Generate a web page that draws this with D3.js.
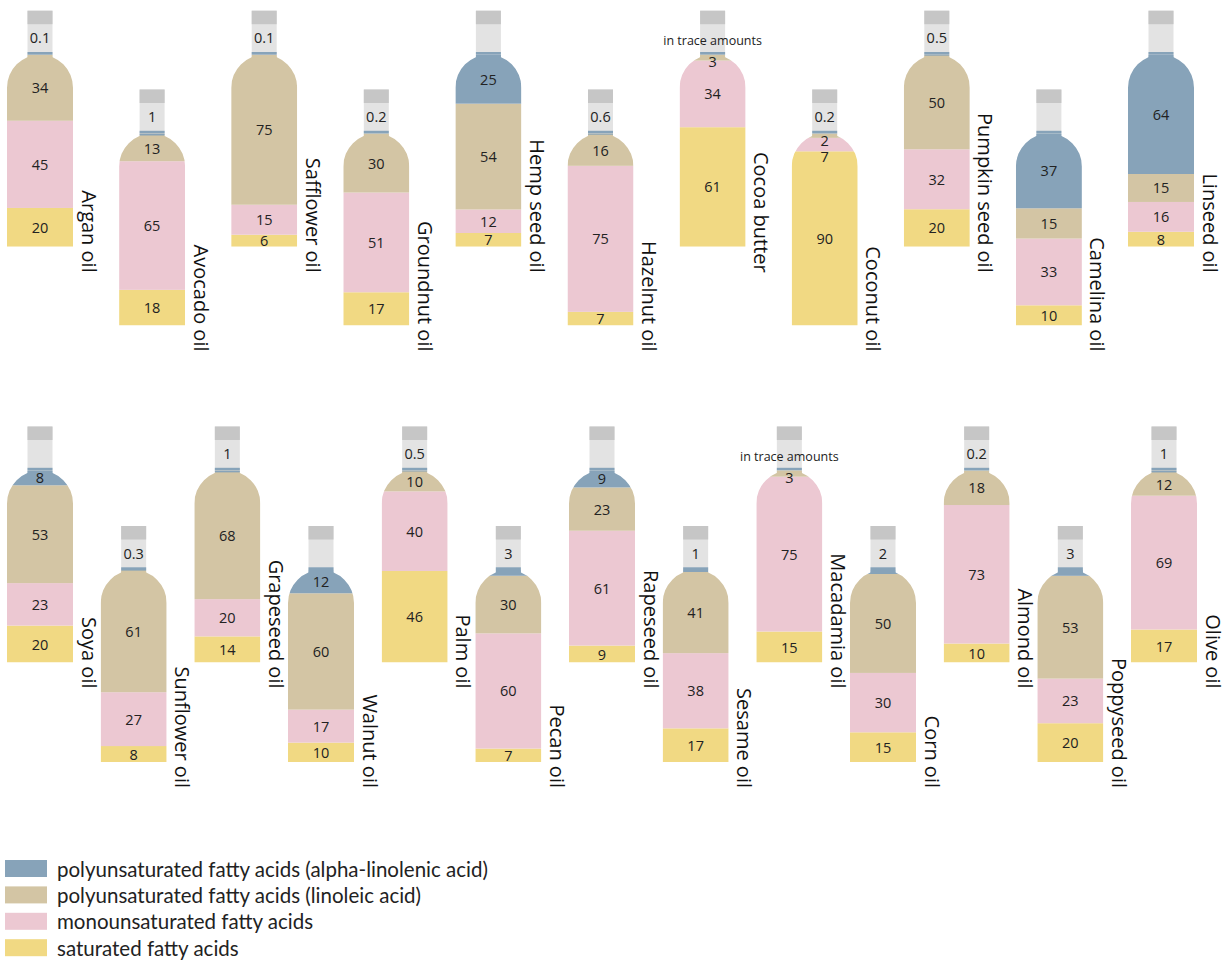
<!DOCTYPE html>
<html>
<head>
<meta charset="utf-8">
<script src="https://cdn.jsdelivr.net/npm/d3@7"></script>
<style>
  html, body { margin: 0; padding: 0; background: #fff; }
  svg { display: block; }
</style>
</head>
<body>
<svg id="chart" width="1225" height="960"></svg>
<script>
// ---------- DATA ----------
const seriesKeys = ["saturated", "mono", "linoleic", "alpha"];
const seriesLabels = [
  "polyunsaturated fatty acids (alpha-linolenic acid)",
  "polyunsaturated fatty acids (linoleic acid)",
  "monounsaturated fatty acids",
  "saturated fatty acids"
];
const legendKeys = ["alpha", "linoleic", "mono", "saturated"];

const row1Oils      = ["Argan oil", "Avocado oil", "Safflower oil", "Groundnut oil", "Hemp seed oil", "Hazelnut oil", "Cocoa butter", "Coconut oil", "Pumpkin seed oil", "Camelina oil", "Linseed oil"];
const row1Saturated = [20, 18, 6, 17, 7, 7, 61, 90, 20, 10, 8];
const row1Mono      = [45, 65, 15, 51, 12, 75, 34, 7, 32, 33, 16];
const row1Linoleic  = [34, 13, 75, 30, 54, 16, 3, 2, 50, 15, 15];
const row1Alpha     = [0.1, 1, 0.1, 0.2, 25, 0.6, 0, 0.2, 0.5, 37, 64];

const row2Oils      = ["Soya oil", "Sunflower oil", "Grapeseed oil", "Walnut oil", "Palm oil", "Pecan oil", "Rapeseed oil", "Sesame oil", "Macadamia oil", "Corn oil", "Almond oil", "Poppyseed oil", "Olive oil"];
const row2Saturated = [20, 8, 14, 10, 46, 7, 9, 17, 15, 15, 10, 20, 17];
const row2Mono      = [23, 27, 20, 17, 40, 60, 61, 38, 75, 30, 73, 23, 69];
const row2Linoleic  = [53, 61, 68, 60, 10, 30, 23, 41, 3, 50, 18, 53, 12];
const row2Alpha     = [8, 0.3, 1, 12, 0.5, 3, 9, 1, 0, 2, 0.2, 3, 1];

const traceText = "in trace amounts";

// ---------- STYLE ----------
const colors = {
  alpha: "#87a3b9",
  linoleic: "#d3c5a4",
  mono: "#ecc8d2",
  saturated: "#f1d983"
};
const capColor = "#c6c6c6";
const neckColor = "#e3e3e3";
const textColor = "#222";
const numFont = "'Open Sans', 'Noto Sans', sans-serif";

const bodyW = 66, neckW = 25, bodyH = 192;
const capH = 13.5, neckH = 44, lineH = 2.7;

const svg = d3.select("#chart");

function buildRow(oils, sat, mono, lin, alpha) {
  return oils.map((name, i) => ({
    name, saturated: sat[i], mono: mono[i], linoleic: lin[i], alpha: alpha[i], index: i
  }));
}

const rows = [
  { data: buildRow(row1Oils, row1Saturated, row1Mono, row1Linoleic, row1Alpha),
    xRange: [40, 1161], bottoms: [246.7, 325.5] },
  { data: buildRow(row2Oils, row2Saturated, row2Mono, row2Linoleic, row2Alpha),
    xRange: [40, 1164], bottoms: [662.5, 762] }
];

const stack = d3.stack().keys(seriesKeys).offset(d3.stackOffsetExpand);
const h = d3.scaleLinear().domain([0, 1]).range([0, bodyH]);

rows.forEach((row, ri) => {
  const x = d3.scalePoint().domain(row.data.map(d => d.name)).range(row.xRange);
  const stacked = stack(row.data);

  row.data.forEach((d, i) => {
    const cx = x(d.name);
    const bottom = row.bottoms[i % 2];
    const top = bottom - bodyH;
    const left = cx - bodyW / 2, r = bodyW / 2;
    const y = v => bottom - h(v);

    const g = svg.append("g").attr("class", "bottle");
    const clipId = `clip-${ri}-${i}`;
    const bodyPath = `M${left},${bottom} L${left},${top + r} A${r},${r} 0 0 1 ${left + bodyW},${top + r} L${left + bodyW},${bottom} Z` +
      ` M${cx - neckW / 2},${top} h${neckW} v4 h${-neckW} Z`;
    g.append("clipPath").attr("id", clipId).append("path").attr("d", bodyPath);

    // neck
    g.append("rect").attr("x", cx - neckW / 2).attr("y", top - neckH)
      .attr("width", neckW).attr("height", neckH).attr("fill", neckColor);
    g.append("rect").attr("x", cx - neckW / 2).attr("y", top - neckH)
      .attr("width", neckW).attr("height", capH).attr("fill", capColor);
    g.append("rect").attr("x", cx - neckW / 2).attr("y", top - lineH)
      .attr("width", neckW).attr("height", lineH).attr("fill", colors.alpha);

    // stacked segments
    const segs = g.append("g").attr("clip-path", `url(#${clipId})`);
    const topKey = (d.alpha > 0 && h(stacked[3][i][1] - stacked[3][i][0]) > 3) ? "alpha" : "linoleic";
    segs.append("rect").attr("x", cx - neckW / 2).attr("y", top).attr("width", neckW).attr("height", 4)
      .attr("fill", colors[topKey]);
    stacked.forEach(s => {
      const seg = s[i];
      const y0 = y(seg[0]), y1 = y(seg[1]);
      segs.append("rect")
        .attr("x", left).attr("width", bodyW)
        .attr("y", y1)
        .attr("height", Math.max(0, y0 - y1))
        .attr("fill", colors[s.key]);
    });

    // value labels, top-down with minimal spacing
    let prevY = -Infinity;
    [...stacked].reverse().forEach(s => {
      const seg = s[i];
      const v = d[s.key];
      if (s.key === "alpha" && v <= 3) return;
      const center = (y(seg[0]) + y(seg[1])) / 2;
      const ly = Math.max(center, top + 7, prevY + 16);
      prevY = ly;
      g.append("text")
        .attr("x", cx).attr("y", ly)
        .attr("text-anchor", "middle").attr("dominant-baseline", "central")
        .attr("font-family", numFont).attr("font-size", 14.5)
        .attr("fill", textColor)
        .text(v);
    });
    if (d.alpha > 0 && d.alpha <= 3) {
      g.append("text")
        .attr("x", cx).attr("y", top - 17)
        .attr("text-anchor", "middle").attr("dominant-baseline", "central")
        .attr("font-family", numFont).attr("font-size", 14.5)
        .attr("fill", textColor)
        .text(d.alpha);
    } else if (d.alpha === 0) {
      g.append("text")
        .attr("x", cx).attr("y", top - 14)
        .attr("text-anchor", "middle").attr("dominant-baseline", "central")
        .attr("font-family", numFont).attr("font-size", 12.5)
        .attr("fill", textColor)
        .text(traceText);
    }

    // oil name
    g.append("text")
      .attr("transform", `translate(${left + bodyW + 8.5},${bottom + 26}) rotate(90)`)
      .attr("text-anchor", "end")
      .attr("font-family", numFont).attr("font-size", 20)
      .attr("fill", "#111")
      .text(d.name);
  });
});

// ---------- LEGEND ----------
const legend = svg.append("g").attr("transform", "translate(5,860)");
legendKeys.forEach((k, i) => {
  const gy = i * 26.4;
  legend.append("rect").attr("x", 0).attr("y", gy).attr("width", 42).attr("height", 17).attr("fill", colors[k]);
  legend.append("text").attr("x", 52).attr("y", gy + 8.5)
    .attr("dominant-baseline", "central")
    .attr("font-family", "Lato, sans-serif").attr("font-size", 20.5)
    .attr("fill", textColor)
    .text(seriesLabels[i]);
});
</script>
</body>
</html>
